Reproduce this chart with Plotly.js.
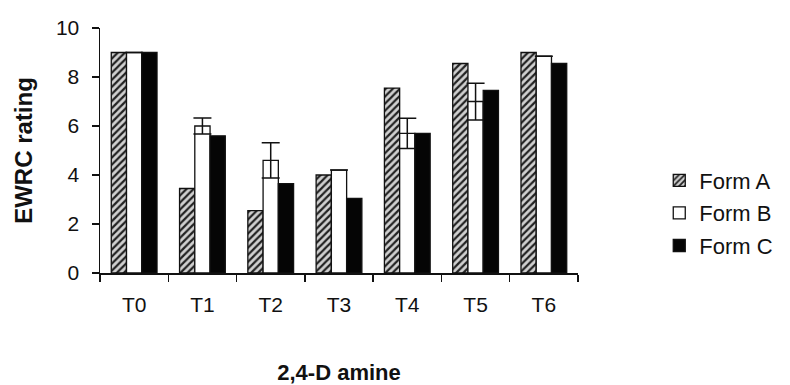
<!DOCTYPE html>
<html>
<head>
<meta charset="utf-8">
<script src="https://cdn.plot.ly/plotly-3.0.1.min.js"></script>
<style>html,body{margin:0;padding:0;background:#fff;}#chart{width:790px;height:385px;}</style>
</head>
<body>
<div id="chart"></div>
<script>
var categories = ["T0", "T1", "T2", "T3", "T4", "T5", "T6"];
var formA = [9.0, 3.45, 2.55, 4.0, 7.55, 8.55, 9.0];
var formB = [9.0, 6.0, 4.6, 4.2, 5.7, 7.0, 8.85];
var formBErr = [0, 0.33, 0.72, 0, 0.62, 0.75, 0];
var formC = [9.0, 5.6, 3.65, 3.05, 5.7, 7.45, 8.55];
var seriesNames = ["Form A", "Form B", "Form C"];

var lineStyle = {color: "#111", width: 1.3};
var traces = [
  {
    type: "bar", name: seriesNames[0], x: categories, y: formA,
    legendgroup: "a",
    marker: {color: "#ffffff", line: lineStyle,
      pattern: {shape: "/", fgcolor: "#222", bgcolor: "#d0d0d0", size: 5, solidity: 0.45}}
  },
  {
    type: "bar", name: seriesNames[1], x: categories, y: formB,
    legendgroup: "b",
    marker: {color: "#ffffff", line: lineStyle},
    error_y: {type: "data", array: formBErr, visible: true, color: "#111", thickness: 1.5, width: 9}
  },
  {
    type: "bar", name: seriesNames[2], x: categories, y: formC,
    legendgroup: "c",
    marker: {color: "#050505", line: lineStyle}
  }
];

var fam = "Liberation Sans, Arial, sans-serif";
var layout = {
  width: 790, height: 385,
  margin: {l: 100, r: 209, t: 28, b: 112},
  paper_bgcolor: "#fff", plot_bgcolor: "#fff",
  barmode: "group", bargap: 0.33, bargroupgap: 0,
  font: {family: fam, color: "#111"},
  showlegend: true,
  legend: {
    x: 1.17, xanchor: "left", y: 0.245, yanchor: "middle",
    font: {family: fam, size: 22, color: "#111"},
    traceorder: "grouped", tracegroupgap: 1,
    bgcolor: "rgba(0,0,0,0)"
  },
  xaxis: {
    type: "category",
    showline: true, linecolor: "#111", linewidth: 1.5,
    ticks: "outside", tickson: "boundaries", ticklen: 7, tickwidth: 1.5, tickcolor: "#111",
    ticklabelstandoff: 12,
    showgrid: false, zeroline: false,
    tickfont: {family: fam, size: 21, color: "#111"},
    title: {text: "<b>2,4-D amine</b>", font: {family: fam, size: 22, color: "#111"}, standoff: 50},
    automargin: false
  },
  yaxis: {
    range: [0, 10], dtick: 2,
    showline: true, linecolor: "#111", linewidth: 1.5,
    ticks: "outside", ticklen: 7, tickwidth: 1.5, tickcolor: "#111",
    ticklabelstandoff: 8,
    showgrid: false, zeroline: false,
    tickfont: {family: fam, size: 21, color: "#111"},
    title: {text: "<b>EWRC rating</b>", font: {family: fam, size: 24, color: "#111"}, standoff: 16},
    automargin: false
  }
};

Plotly.newPlot("chart", traces, layout, {displayModeBar: false, staticPlot: true});
</script>
</body>
</html>
